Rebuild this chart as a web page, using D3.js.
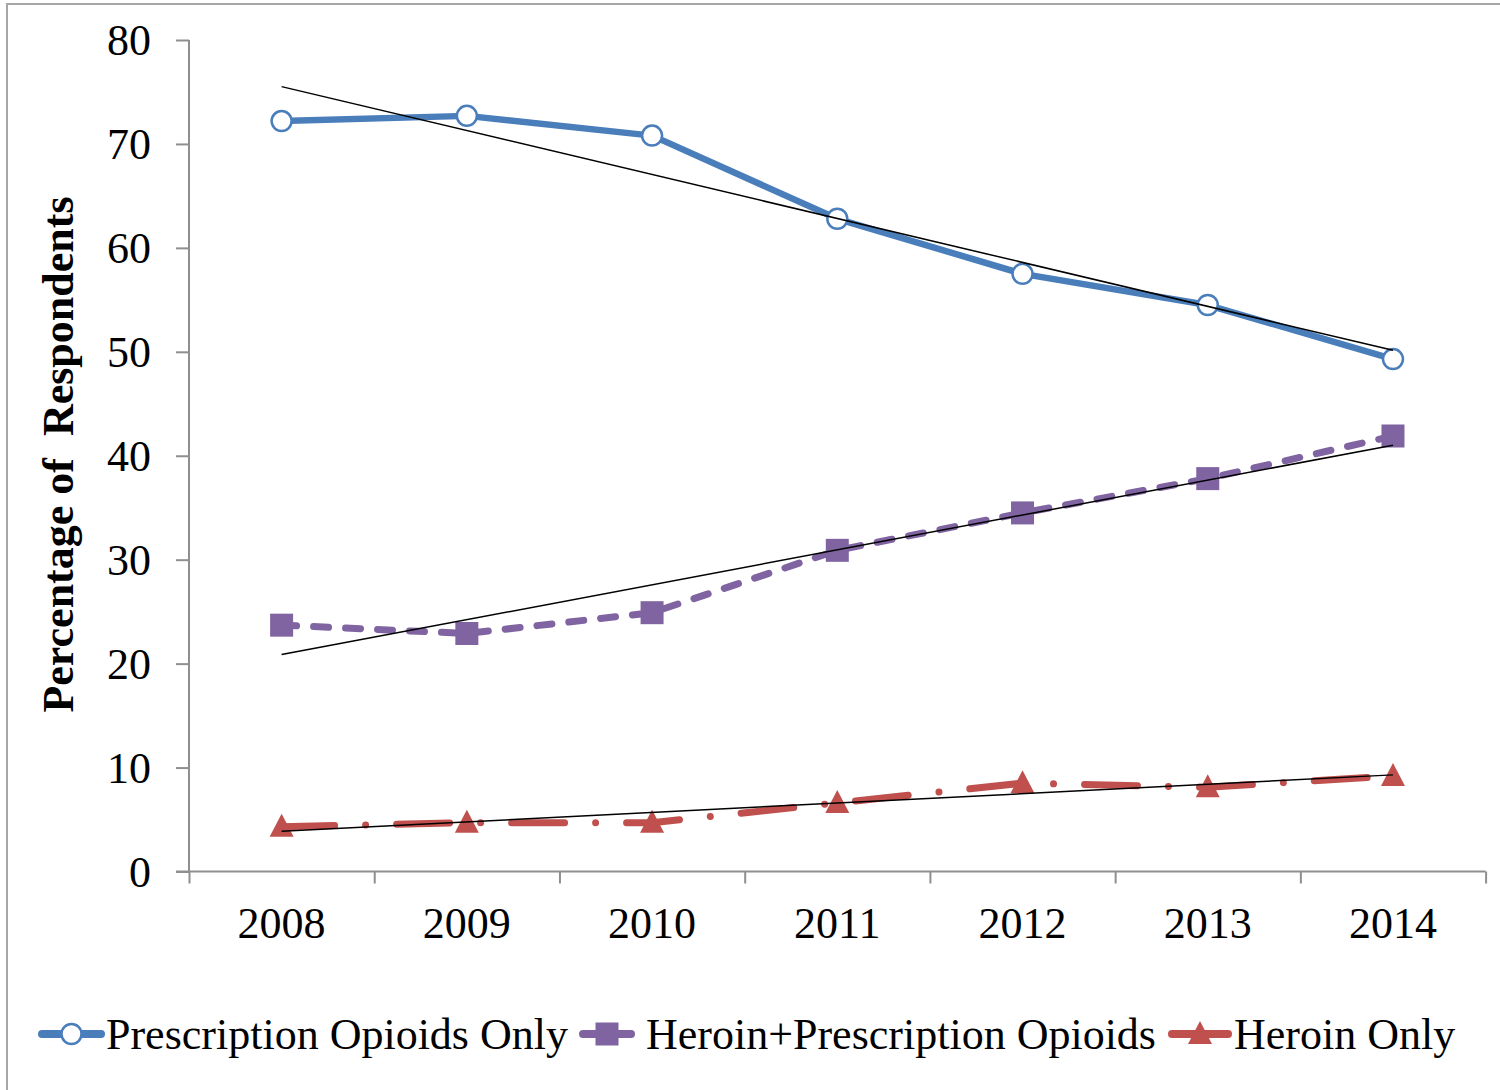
<!DOCTYPE html>
<html>
<head>
<meta charset="utf-8">
<script src="https://cdn.jsdelivr.net/npm/d3@7"></script>
<style>
  html, body { margin: 0; padding: 0; background: #fff; }
  svg { display: block; }
  text { font-family: "Liberation Serif", "Times New Roman", serif; fill: #000; }
</style>
</head>
<body>
<svg id="chart" width="1500" height="1090"></svg>
<script>
// ---- data ----
const years = ["2008", "2009", "2010", "2011", "2012", "2013", "2014"];
const prescriptionOnly = [72.2, 72.7, 70.8, 62.8, 57.5, 54.5, 49.3];
const heroinPlusPrescription = [23.7, 22.9, 24.9, 30.9, 34.5, 37.8, 41.9];
const heroinOnly = [4.3, 4.7, 4.7, 6.6, 8.5, 8.1, 9.2];
const yTicks = [0, 10, 20, 30, 40, 50, 60, 70, 80];
const seriesNames = ["Prescription Opioids Only", "Heroin+Prescription Opioids", "Heroin Only"];

(function () {
// ---- layout ----
const svg = d3.select("#chart");
const pLeft = 189, pRight = 1485.6, pTop = 40, pBottom = 871.5;
const axisColor = "#8f8f8f";

// outer border
svg.append("rect").attr("x", 7).attr("y", 4).attr("width", 1510).attr("height", 1100)
  .attr("fill", "none").attr("stroke", "#a6a6a6").attr("stroke-width", 2);

const x = d3.scaleBand().domain(years).range([pLeft, pRight]).paddingInner(0).paddingOuter(0);
const xEdge = d3.scaleLinear().domain([0, years.length]).range([pLeft, pRight]);
const y = d3.scaleLinear().domain([0, 80]).range([pBottom, pTop]);
const cx = d => x(d) + x.bandwidth() / 2;

// y axis
const yAxis = svg.append("g").attr("transform", `translate(${pLeft},0)`)
  .call(d3.axisLeft(y).tickValues(yTicks).tickSize(13).tickSizeOuter(0).tickFormat(""));
yAxis.selectAll("path, line").attr("stroke", axisColor).attr("stroke-width", 2);
yAxis.select(".domain").attr("d", `M0,${pTop}V${pBottom}`);
svg.append("g").selectAll("text").data(yTicks).join("text")
  .attr("x", 151).attr("y", d => y(d) + 15)
  .attr("text-anchor", "end").style("font-size", "44px").text(d => d);

// x axis
const xAxis = svg.append("g").attr("transform", `translate(0,${pBottom})`)
  .call(d3.axisBottom(xEdge).tickValues(d3.range(0, years.length + 1)).tickSize(12).tickSizeOuter(0).tickFormat(""));
xAxis.selectAll("path, line").attr("stroke", axisColor).attr("stroke-width", 2);
xAxis.select(".domain").attr("d", `M${pLeft - 13},0H${pRight}`);
svg.append("g").selectAll("text").data(years).join("text")
  .attr("x", d => cx(d)).attr("y", 938)
  .attr("text-anchor", "middle").style("font-size", "44px").text(d => d);

// y title
svg.append("text")
  .attr("transform", "translate(73,454.5) rotate(-90)")
  .attr("text-anchor", "middle")
  .style("font-size", "44px").style("font-weight", "bold").style("white-space", "pre")
  .text("Percentage of  Respondents");

// series
const series = [
  { name: seriesNames[0], values: prescriptionOnly, color: "#4A7EBB", width: 6.5, dash: null, marker: "circle" },
  { name: seriesNames[1], values: heroinPlusPrescription, color: "#8064A2", width: 7, dash: "15,17", marker: "square" },
  { name: seriesNames[2], values: heroinOnly, color: "#C0504D", width: 7, dash: "53,31,0.01,31", marker: "triangle" }
];

const line = d3.line().x(d => cx(d.year)).y(d => y(d.v));

function drawMarker(g, type, color, px, py) {
  if (type === "circle") {
    g.append("circle").attr("cx", px).attr("cy", py).attr("r", 10)
      .attr("fill", "#fff").attr("stroke", color).attr("stroke-width", 2.5);
  } else if (type === "square") {
    g.append("rect").attr("x", px - 11.5).attr("y", py - 11.5).attr("width", 23).attr("height", 23)
      .attr("fill", color);
  } else {
    g.append("path").attr("d", `M${px},${py - 13}L${px + 12},${py + 10}L${px - 12},${py + 10}Z`)
      .attr("fill", color);
  }
}

series.forEach(s => {
  const pts = s.values.map((v, i) => ({ year: years[i], v }));
  const p = svg.append("path").datum(pts).attr("d", line)
    .attr("fill", "none").attr("stroke", s.color).attr("stroke-width", s.width)
    .attr("stroke-linecap", "round").attr("stroke-linejoin", "round");
  if (s.dash) p.attr("stroke-dasharray", s.dash);
});

// markers
series.forEach(s => {
  const g = svg.append("g");
  s.values.forEach((v, i) => drawMarker(g, s.marker, s.color, cx(years[i]), y(v)));
});

// linear trendlines (least squares of each series)
series.forEach(s => {
  const n = s.values.length;
  const xs = d3.range(n);
  const mx = d3.mean(xs), my = d3.mean(s.values);
  const slope = d3.sum(xs, i => (i - mx) * (s.values[i] - my)) / d3.sum(xs, i => (i - mx) ** 2);
  const icpt = my - slope * mx;
  const tl = [0, n - 1].map(i => ({ year: years[i], v: icpt + slope * i }));
  svg.append("path").datum(tl).attr("d", line)
    .attr("fill", "none").attr("stroke", "#000").attr("stroke-width", 1.5);
});

// legend
const legendY = 1034;
const legendItems = [
  { s: series[0], x0: 42, x1: 101, tx: 106 },
  { s: series[1], x0: 583, x1: 631, tx: 646 },
  { s: series[2], x0: 1172, x1: 1228, tx: 1234 }
];
legendItems.forEach(li => {
  const g = svg.append("g");
  g.append("line").attr("x1", li.x0).attr("x2", li.x1).attr("y1", legendY).attr("y2", legendY)
    .attr("stroke", li.s.color).attr("stroke-width", 8).attr("stroke-linecap", "round");
  drawMarker(g, li.s.marker, li.s.color, (li.x0 + li.x1) / 2, legendY);
  g.append("text").attr("x", li.tx).attr("y", legendY + 15).style("font-size", "44px").text(li.s.name);
});
})();
</script>
</body>
</html>
